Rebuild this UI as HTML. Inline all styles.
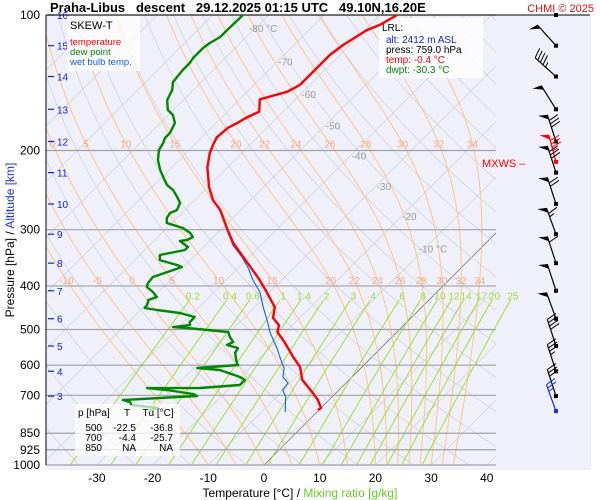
<!DOCTYPE html>
<html><head><meta charset="utf-8">
<style>
html,body{margin:0;padding:0;background:#fff;}
svg{display:block;font-family:"Liberation Sans",Arial,sans-serif;}
</style></head>
<body>
<svg id="c" width="600" height="500" xmlns="http://www.w3.org/2000/svg">
<defs><clipPath id="pc"><rect x="46" y="15" width="450" height="450"/></clipPath></defs>
<rect x="46" y="15" width="545" height="455" fill="#f0f0fa"/>
<g id="grid" clip-path="url(#pc)"></g>
<g id="extra"></g>
<text x="50" y="12" font-size="13" font-weight="bold" fill="#000" xml:space="preserve">Praha-Libus   descent   29.12.2025 01:15 UTC   49.10N,16.20E</text>
<text x="594" y="12" font-size="11" text-anchor="end" fill="#e01010">CHMI © 2025</text>
<line x1="46" y1="15" x2="590" y2="15" stroke="#000" stroke-width="1"/>
<line x1="46" y1="15" x2="46" y2="465" stroke="#000" stroke-width="1"/>
<text transform="translate(14,240) rotate(-90)" font-size="12" text-anchor="middle"><tspan fill="#000">Pressure [hPa]  /  </tspan><tspan fill="#2030e0">Altitude [km]</tspan></text>
<text x="300" y="497" font-size="12" text-anchor="middle"><tspan fill="#000">Temperature [°C]  /  </tspan><tspan fill="#66cc22">Mixing ratio [g/kg]</tspan></text>
<g>
<rect x="67" y="16" width="73" height="55" fill="#fff" fill-opacity="0.75"/>
<text x="70" y="29" font-size="11" fill="#000">SKEW-T</text>
<text x="70" y="45" font-size="9.5" fill="#f00">temperature</text>
<text x="70" y="55" font-size="9.5" fill="#008800">dew point</text>
<text x="70" y="65" font-size="9.5" fill="#1060f0">wet bulb temp.</text>
</g>
<g>
<rect x="379" y="18" width="104" height="60" fill="#fff" fill-opacity="0.8"/>
<text x="382" y="31" font-size="10" fill="#000">LRL:</text>
<text x="386" y="43" font-size="10" fill="#1020e0">alt: 2412 m ASL</text>
<text x="386" y="53" font-size="10" fill="#000">press: 759.0 hPa</text>
<text x="386" y="63" font-size="10" fill="#f00">temp: -0.4 °C</text>
<text x="386" y="73" font-size="10" fill="#008800">dwpt: -30.3 °C</text>
</g>
<g>
<rect x="75" y="404" width="105" height="52" fill="#fff" fill-opacity="0.75"/>
<text x="78" y="416" font-size="10">p [hPa]</text><text x="127" y="416" font-size="10" text-anchor="middle">T</text><text x="158" y="416" font-size="10" text-anchor="middle">Td [°C]</text>
<text x="102" y="431" font-size="10" text-anchor="end">500</text><text x="136" y="431" font-size="10" text-anchor="end">-22.5</text><text x="173" y="431" font-size="10" text-anchor="end">-36.8</text>
<text x="102" y="441" font-size="10" text-anchor="end">700</text><text x="136" y="441" font-size="10" text-anchor="end">-4.4</text><text x="173" y="441" font-size="10" text-anchor="end">-25.7</text>
<text x="102" y="451" font-size="10" text-anchor="end">850</text><text x="136" y="451" font-size="10" text-anchor="end">NA</text><text x="173" y="451" font-size="10" text-anchor="end">NA</text>
</g>
<text x="482" y="167" font-size="11" fill="#f00">MXWS –</text>
<g id="series" clip-path="url(#pc)"></g>
<g id="winds"></g>
</svg>
<script>
// ---- data ----
const tempP = [100,105.2,108,116.6,122.7,133.9,143,148,154,164,169,174,178,187,194.5,203,218,241,258,271,300,321,354,384,408,446,471,489,506,536,575,606,647,688,717,747,755];
const tempT = [-56.9,-58.2,-59.6,-61.2,-61.8,-61.8,-61.8,-62.8,-66.4,-64.3,-65.5,-66.2,-67,-67.3,-66.6,-65.7,-63.6,-59.8,-56.7,-53.7,-48.8,-45.4,-39.5,-34.6,-31.2,-26.4,-24.8,-22.4,-21.5,-18.1,-14.2,-11.1,-8.4,-4.5,-2.0,0,-0.2];
const dewP = [100,102.6,108,111.9,115.4,118.4,124.6,127.8,132.5,140.9,146.8,154.5,162.6,166.8,173.8,182.9,187.6,192.5,199.5,210,221,229.1,238.7,244.8,253.8,261.7,271.3,275.4,282.5,289.9,297.4,305.1,311.4,316.2,317.9,327.8,332.9,341.5,350.4,359.4,363.1,368.7,382.1,394.1,402.2,412.6,423.3,429.9,441,447.9,452.5,459.5,469,481.3,488.7,493.7,496.2,506.4,519.5,533,541.2,549.5,563.7,593.3,599.4,608.7,615.1,637.5,647.4,664.2,674.4,674.6,681.3,695.4,702.6,706.3,717.2,724.4,735.6];
const dewT = [-84.6,-84.6,-84.7,-84.7,-85.5,-85.8,-85.8,-85.5,-85.5,-85.1,-83.8,-82.9,-81.0,-79.2,-77.4,-76.5,-76.5,-75.9,-75.4,-73.8,-71.6,-69.8,-67.7,-65.7,-63.7,-62.1,-61.4,-62.1,-61.8,-60.9,-57.1,-54.9,-53.7,-54.2,-55.3,-52.8,-52.8,-56.4,-55.5,-51.5,-50.3,-51.3,-53.7,-53.5,-53.0,-51.0,-49.4,-50.4,-49.7,-49.6,-47.0,-42.4,-39.0,-39.0,-38.4,-41.1,-38.4,-30.3,-29.1,-27.6,-28.2,-25.7,-25.3,-23.2,-22.6,-29.4,-25.0,-20.1,-18.7,-18.7,-25.3,-34.8,-30.9,-25.5,-24.4,-27.8,-37.0,-35.4,-34.5];
const dewLrlP = [735.6,747.1,759];
const dewLrlT = [-34.5,-29.4,-30.3];
const wetP = [303.6,324.4,345,364.9,388.1,412.6,445.6,476.2,508.8,549.5,593.3,608.7,637.5,657.4,681.3,706.3,762.5];
const wetT = [-48.3,-45.1,-41.3,-38.2,-35.2,-31.8,-28.5,-25.5,-22.6,-18.7,-15.1,-13.8,-12.4,-10.4,-10.1,-8.3,-5.7];
const pressTicks = [100,200,300,400,500,600,700,850,925,1000];
const tempTicks = [-30,-20,-10,0,10,20,30,40];
const altKm = [16,15,14,13,12,11,10,9,8,7,6,5,4,3];
const altP = [100,117,137,162,191,224,263,307,356,410,473,544,619,703];
const isoLabels = [-80,-70,-60,-50,-40,-30,-20,-10];
const thetaWTop = [0,5,10,15,20,22,24,26,28,30,32,34];
const thetaWBot = [-10,-5,0,5,10,15,20,22,24,26,28,30,32,34];
const mixRatios = [0.2,0.4,0.6,1,1.4,2,3,4,6,8,10,12,14,17,20,25];
const windP = [117,137,162,191,212,224,263,307,356,410,473,544,619,703,759];
const windDir = [318,312,328,342,345,342,342,340,342,342,340,342,342,342,340];
const windSpd = [50,45,50,80,85,80,70,65,60,50,50,40,35,30,25];

// ---- axes ----
const NS='http://www.w3.org/2000/svg';
function Y(p){return 15+450*Math.log10(p/100);}
function X(T,p){return 264+5.57*T+450*Math.log10(1000/p);}
function mk(tag,attrs,parent){const e=document.createElementNS(NS,tag);for(const k in attrs)e.setAttribute(k,attrs[k]);parent.appendChild(e);return e;}
const grid=document.getElementById('grid'),extra=document.getElementById('extra'),series=document.getElementById('series'),winds=document.getElementById('winds');
function poly(pts){return pts.map(q=>q[0].toFixed(1)+','+q[1].toFixed(1)).join(' ');}
const plevs=[];for(let p=1000;p>=100;p-=10)plevs.push(p);

// isotherms
for(let T=-140;T<=40;T+=10){
  const l=mk('line',{x1:X(T,1000),y1:Y(1000),x2:X(T,100),y2:Y(100),stroke:T===0?'#777':'#d2d2da','stroke-width':0.8},grid);
  
  
}
// dry adiabats
for(let th=230;th<=500;th+=10){
  const pts=plevs.map(p=>[X(th*Math.pow(p/1000,0.2857)-273.15,p),Y(p)]);
  const l=mk('polyline',{points:poly(pts),fill:'none',stroke:'#d2d2da','stroke-width':0.8},grid);
  
  
}
// moist adiabats
function es(Tc){return 6.112*Math.exp(17.67*Tc/(Tc+243.5));}
function moist(tw){
  let T=tw+273.15,p=1000;const out=[[p,tw]];
  while(p>100){const dp=-5;const rs=0.622*es(T-273.15)/(p-es(T-273.15));
    const g=(287*T+2.5e6*rs)/(p*(1004+2.5e6*2.5e6*rs*0.622/(287*T*T)));
    T+=g*dp;p+=dp;out.push([p,T-273.15]);}
  return out;
}
function interpT(curve,p){for(let i=1;i<curve.length;i++){if(curve[i][0]<=p){const a=curve[i-1],b=curve[i];const f=(a[0]-p)/(a[0]-b[0]);return a[1]+f*(b[1]-a[1]);}}return curve[curve.length-1][1];}
const mset=[-10,-5,0,5,10,15,20,22,24,26,28,30,32,34];
const curves={};
mset.forEach(tw=>{const c=moist(tw);curves[tw]=c;
  const l=mk('polyline',{points:poly(c.map(q=>[X(q[1],q[0]),Y(q[0])])),fill:'none',stroke:'#ffc27a','stroke-width':0.9},grid);
  
  
});
// horizontal pressure lines
pressTicks.forEach(p=>{
  const l=mk('line',{x1:46,y1:Y(p),x2:496,y2:Y(p),stroke:'#a0a0a8','stroke-width':1.2},extra);
  
  
  const t=mk('text',{x:40,y:Y(p)+4,'font-size':12,'text-anchor':'end',fill:'#000'},extra);t.textContent=p;
  
  
});
// mixing ratio lines
function tdw(w,p){const e=(w/1000)*p/(0.622+w/1000);const L=Math.log(e/6.112);return 243.5*L/(17.67-L);}
const pTopMR=430;
mixRatios.forEach(w=>{
  const pts=[];for(let p=1000;p>=pTopMR;p-=10)pts.push([X(tdw(w,p),p),Y(p)]);
  const l=mk('polyline',{points:poly(pts),fill:'none',stroke:'#99dd22','stroke-width':0.9},w>=20?extra:grid);
  
  
  const t=mk('text',{x:X(tdw(w,420),420),y:Y(420)+4,'font-size':10,'text-anchor':'middle',fill:'#99dd33'},extra);t.textContent=w;
  
  
});
// moist adiabat labels
function mlabel(tw,p){const T=interpT(curves[tw],p);const x=X(T,p);if(x>496||x<46)return;
  const t=mk('text',{x:x,y:Y(p)+4,'font-size':10,'text-anchor':'middle',fill:'#f6a888'},extra);t.textContent=tw;
  
  }
thetaWTop.forEach(tw=>mlabel(tw,193));
thetaWBot.forEach(tw=>mlabel(tw,388));
// isotherm labels
const isoLabP=[107,127,150,176,205,240,280,330];
isoLabels.forEach((T,i)=>{const p=isoLabP[i];
  const t=mk('text',{x:X(T,p)+8,y:Y(p)+4,'font-size':10,'text-anchor':'middle',fill:'#9a9a9a'},extra);t.textContent=T+((T===-80||T===-10)?' °C':'');
  
  });
// x ticks
tempTicks.forEach(T=>{const t=mk('text',{x:X(T,1000),y:482,'font-size':12,'text-anchor':'middle',fill:'#000'},extra);t.textContent=T;
  
  });
// altitude ticks
altKm.forEach((k,i)=>{const y=Y(altP[i]);
  const l=mk('line',{x1:48,y1:y,x2:54,y2:y,stroke:'#1020e0','stroke-width':1.2},extra);
  
  
  const t=mk('text',{x:57,y:y+4,'font-size':10,fill:'#1020e0'},extra);t.textContent=k;
  
  });
// series
function line(P,T,color,w,name){const l=mk('polyline',{points:poly(P.map((p,i)=>[X(T[i],p),Y(p)])),fill:'none',stroke:color,'stroke-width':w,'stroke-linejoin':'round'},series);
  
  }
line(wetP,wetT,'#1060f0',1.1,'wet-bulb-line');
line(dewP,dewT,'#008800',2.4,'dew-point-line');
line(dewLrlP,dewLrlT,'#a8dca8',2.4,'dew-point-lrl-segment');
line(tempP,tempT,'#ff0000',2.4,'temperature-line');
// wind barbs
windP.forEach((p,i)=>{
  const x0=556,y0=Y(p),d=windDir[i]*Math.PI/180,L=28;
  const col=(p===212)?'#f00':(p===759?'#1030f0':'#000');
  const ux=Math.sin(d),uy=-Math.cos(d);const x1=x0+ux*L,y1=y0+uy*L;
  const g=mk('g',{},winds);
  
  
  mk('line',{x1:x0,y1:y0,x2:x1,y2:y1,stroke:col,'stroke-width':1.2},g);
  mk('rect',{x:x0-2,y:y0-2,width:4,height:4,fill:col},g);
  const px=-uy,py=ux;
  let s=windSpd[i],pos=0;
  while(s>=50){const ax=x1-ux*pos,ay=y1-uy*pos,bx=x1-ux*(pos+5),by=y1-uy*(pos+5);
    mk('polygon',{points:poly([[ax,ay],[ax-px*9+ux*2,ay-py*9+uy*2],[bx,by]]),fill:col},g);pos+=6;s-=50;}
  while(s>=10){const ax=x1-ux*pos,ay=y1-uy*pos;
    mk('line',{x1:ax,y1:ay,x2:ax+px*10+ux*3,y2:ay+py*10+uy*3,stroke:col,'stroke-width':1},g);pos+=3.5;s-=10;}
  if(s>=5){const ax=x1-ux*pos,ay=y1-uy*pos;mk('line',{x1:ax,y1:ay,x2:ax+px*5+ux*1.5,y2:ay+py*5+uy*1.5,stroke:col,'stroke-width':1},g);}
});
mk('rect',{x:554,y:13,width:4,height:4,fill:'#000'},winds);
</script>
</body></html>
